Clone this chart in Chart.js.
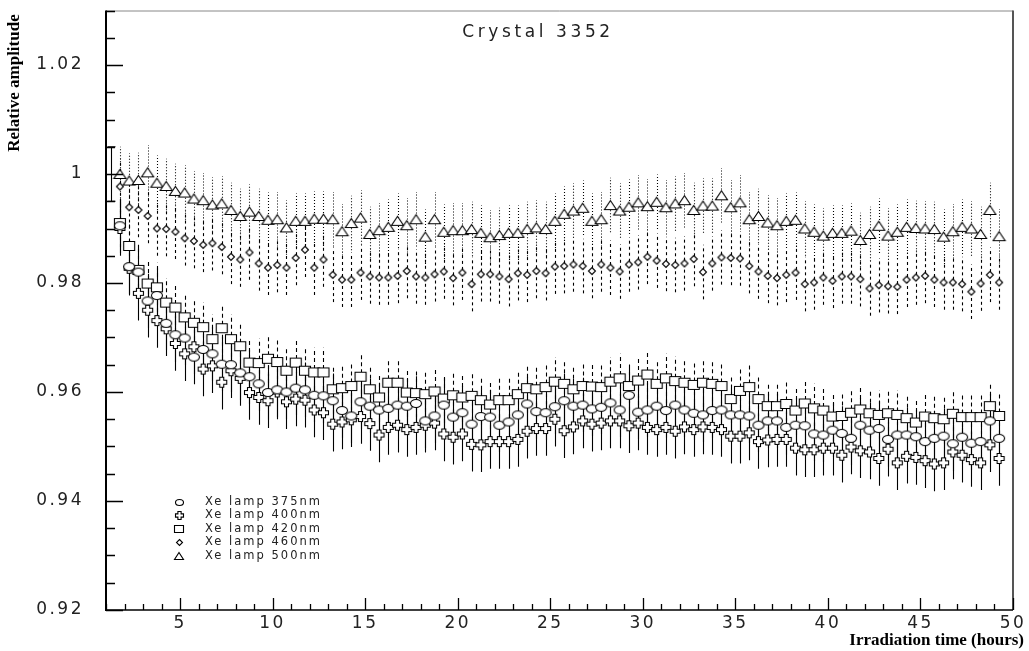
<!DOCTYPE html>
<html>
<head>
<meta charset="utf-8">
<script src="https://cdn.jsdelivr.net/npm/chart.js@4"></script>
<style>
  html, body { margin: 0; padding: 0; background: #fff; }
  canvas { display: block; }
</style>
</head>
<body>
<canvas id="myChart" width="1029" height="651"></canvas>
<script>
// irradiation time of each measurement (hours)
const hours = [1.75, 2.25, 2.75, 3.25, 3.75, 4.25, 4.75, 5.25, 5.75, 6.25,
  6.75, 7.25, 7.75, 8.25, 8.75, 9.25, 9.75, 10.25, 10.75, 11.25,
  11.75, 12.25, 12.75, 13.25, 13.75, 14.25, 14.75, 15.25, 15.75, 16.25,
  16.75, 17.25, 17.75, 18.25, 18.75, 19.25, 19.75, 20.25, 20.75, 21.25,
  21.75, 22.25, 22.75, 23.25, 23.75, 24.25, 24.75, 25.25, 25.75, 26.25,
  26.75, 27.25, 27.75, 28.25, 28.75, 29.25, 29.75, 30.25, 30.75, 31.25,
  31.75, 32.25, 32.75, 33.25, 33.75, 34.25, 34.75, 35.25, 35.75, 36.25,
  36.75, 37.25, 37.75, 38.25, 38.75, 39.25, 39.75, 40.25, 40.75, 41.25,
  41.75, 42.25, 42.75, 43.25, 43.75, 44.25, 44.75, 45.25, 45.75, 46.25,
  46.75, 47.25, 47.75, 48.25, 48.75, 49.25];

const xe375 = [0.9905, 0.9830, 0.9820, 0.9767, 0.9777, 0.9726, 0.9705, 0.9699, 0.9664, 0.9678,
  0.9670, 0.9651, 0.9650, 0.9635, 0.9628, 0.9615, 0.9599, 0.9604, 0.9600, 0.9607,
  0.9604, 0.9594, 0.9593, 0.9584, 0.9566, 0.9556, 0.9582, 0.9574, 0.9567, 0.9570,
  0.9576, 0.9574, 0.9579, 0.9547, 0.9556, 0.9576, 0.9554, 0.9562, 0.9541, 0.9555,
  0.9554, 0.9539, 0.9545, 0.9558, 0.9578, 0.9564, 0.9562, 0.9573, 0.9584, 0.9574,
  0.9576, 0.9569, 0.9572, 0.9580, 0.9567, 0.9594, 0.9563, 0.9567, 0.9574, 0.9566,
  0.9576, 0.9567, 0.9561, 0.9558, 0.9566, 0.9567, 0.9558, 0.9558, 0.9556, 0.9539,
  0.9547, 0.9547, 0.9535, 0.9539, 0.9538, 0.9523, 0.9521, 0.9530, 0.9524, 0.9515,
  0.9539, 0.9530, 0.9533, 0.9513, 0.9521, 0.9521, 0.9518, 0.9509, 0.9515, 0.9519,
  0.9505, 0.9517, 0.9506, 0.9509, 0.9547, 0.9515];

const xe400 = [0.9900, 0.9827, 0.9781, 0.9750, 0.9731, 0.9716, 0.9689, 0.9670, 0.9683, 0.9642,
  0.9648, 0.9618, 0.9639, 0.9625, 0.9599, 0.9590, 0.9584, 0.9600, 0.9582, 0.9587,
  0.9585, 0.9567, 0.9562, 0.9541, 0.9545, 0.9549, 0.9555, 0.9542, 0.9521, 0.9535,
  0.9539, 0.9531, 0.9535, 0.9539, 0.9543, 0.9523, 0.9517, 0.9523, 0.9504, 0.9503,
  0.9509, 0.9509, 0.9509, 0.9513, 0.9528, 0.9533, 0.9533, 0.9550, 0.9529, 0.9536,
  0.9547, 0.9541, 0.9543, 0.9547, 0.9547, 0.9538, 0.9543, 0.9535, 0.9531, 0.9535,
  0.9528, 0.9536, 0.9531, 0.9536, 0.9535, 0.9531, 0.9519, 0.9519, 0.9525, 0.9509,
  0.9512, 0.9513, 0.9513, 0.9497, 0.9494, 0.9494, 0.9497, 0.9497, 0.9484, 0.9499,
  0.9492, 0.9490, 0.9478, 0.9495, 0.9470, 0.9482, 0.9480, 0.9474, 0.9468, 0.9470,
  0.9490, 0.9484, 0.9476, 0.9470, 0.9503, 0.9478];

const xe420 = [0.9910, 0.9868, 0.9824, 0.9799, 0.9792, 0.9764, 0.9755, 0.9737, 0.9727, 0.9719,
  0.9697, 0.9717, 0.9697, 0.9684, 0.9654, 0.9653, 0.9661, 0.9655, 0.9639, 0.9654,
  0.9639, 0.9636, 0.9636, 0.9605, 0.9607, 0.9611, 0.9628, 0.9605, 0.9590, 0.9617,
  0.9617, 0.9599, 0.9598, 0.9596, 0.9601, 0.9588, 0.9594, 0.9590, 0.9593, 0.9585,
  0.9577, 0.9585, 0.9585, 0.9596, 0.9607, 0.9605, 0.9609, 0.9619, 0.9615, 0.9605,
  0.9611, 0.9610, 0.9609, 0.9619, 0.9625, 0.9611, 0.9621, 0.9632, 0.9615, 0.9625,
  0.9620, 0.9617, 0.9613, 0.9617, 0.9615, 0.9611, 0.9587, 0.9602, 0.9609, 0.9587,
  0.9574, 0.9574, 0.9578, 0.9566, 0.9579, 0.9570, 0.9566, 0.9555, 0.9556, 0.9562,
  0.9568, 0.9561, 0.9558, 0.9561, 0.9558, 0.9552, 0.9544, 0.9555, 0.9552, 0.9550,
  0.9560, 0.9554, 0.9554, 0.9554, 0.9574, 0.9556];

const xe460 = [0.9977, 0.9939, 0.9934, 0.9923, 0.9900, 0.9899, 0.9894, 0.9882, 0.9877, 0.9870,
  0.9873, 0.9866, 0.9848, 0.9843, 0.9856, 0.9836, 0.9828, 0.9833, 0.9828, 0.9846,
  0.9861, 0.9828, 0.9843, 0.9815, 0.9806, 0.9806, 0.9819, 0.9812, 0.9810, 0.9810,
  0.9813, 0.9822, 0.9812, 0.9810, 0.9816, 0.9821, 0.9809, 0.9819, 0.9798, 0.9816,
  0.9816, 0.9812, 0.9807, 0.9818, 0.9815, 0.9822, 0.9818, 0.9830, 0.9831, 0.9834,
  0.9831, 0.9822, 0.9834, 0.9828, 0.9821, 0.9834, 0.9838, 0.9848, 0.9841, 0.9835,
  0.9833, 0.9836, 0.9844, 0.9820, 0.9836, 0.9847, 0.9846, 0.9845, 0.9831, 0.9821,
  0.9813, 0.9809, 0.9815, 0.9819, 0.9798, 0.9801, 0.9810, 0.9804, 0.9812, 0.9812,
  0.9807, 0.9790, 0.9796, 0.9794, 0.9793, 0.9806, 0.9810, 0.9813, 0.9806, 0.9801,
  0.9801, 0.9798, 0.9784, 0.9799, 0.9815, 0.9801];

const xe500 = [1.0000, 0.9988, 0.9989, 1.0003, 0.9984, 0.9978, 0.9969, 0.9966, 0.9955, 0.9952,
  0.9944, 0.9946, 0.9934, 0.9923, 0.9931, 0.9923, 0.9916, 0.9917, 0.9902, 0.9914,
  0.9914, 0.9918, 0.9918, 0.9917, 0.9895, 0.9910, 0.9920, 0.9890, 0.9897, 0.9903,
  0.9914, 0.9906, 0.9917, 0.9885, 0.9917, 0.9894, 0.9897, 0.9897, 0.9899, 0.9892,
  0.9884, 0.9888, 0.9892, 0.9892, 0.9899, 0.9902, 0.9899, 0.9914, 0.9927, 0.9933,
  0.9938, 0.9914, 0.9917, 0.9943, 0.9933, 0.9940, 0.9948, 0.9941, 0.9949, 0.9939,
  0.9946, 0.9952, 0.9934, 0.9942, 0.9942, 0.9961, 0.9939, 0.9948, 0.9917, 0.9923,
  0.9911, 0.9906, 0.9914, 0.9916, 0.9900, 0.9894, 0.9887, 0.9892, 0.9892, 0.9896,
  0.9879, 0.9890, 0.9905, 0.9887, 0.9894, 0.9903, 0.9901, 0.9900, 0.9899, 0.9885,
  0.9895, 0.9903, 0.9900, 0.9890, 0.9934, 0.9886];

// half length of the error bar of each lamp
const errors = [0.005, 0.005, 0.0045, 0.005, 0.005];
const labels = ['Xe lamp 375nm', 'Xe lamp 400nm', 'Xe lamp 420nm', 'Xe lamp 460nm', 'Xe lamp 500nm'];

// reference point at the start of irradiation
const refHours = [1.25];
const refValue = [1.0];
const refError = 0.005;

const xTicks = [5, 10, 15, 20, 25, 30, 35, 40, 45, 50];
const xTickLabels = ['5', '10', '15', '20', '25', '30', '35', '40', '45', '50'];
const yTicks = [0.92, 0.94, 0.96, 0.98, 1.0, 1.02];
const yTickLabels = ['0.92', '0.94', '0.96', '0.98', '1', '1.02'];

const sans = '"DejaVu Sans", sans-serif';
const serif = '"Liberation Serif", "Times New Roman", serif';

function marker(kind, w, h) {
  const c = document.createElement('canvas');
  c.width = w + 3;
  c.height = h + 3;
  const g = c.getContext('2d');
  const cx = c.width / 2, cy = c.height / 2;
  g.lineWidth = 1.1;
  g.strokeStyle = '#000';
  g.fillStyle = '#fff';
  g.beginPath();
  if (kind === 'ellipse') {
    g.ellipse(cx, cy, w / 2, h / 2, 0, 0, Math.PI * 2);
  } else if (kind === 'rect') {
    g.rect(cx - w / 2, cy - h / 2, w, h);
  } else if (kind === 'diamond') {
    g.moveTo(cx, cy - h / 2); g.lineTo(cx + w / 2, cy);
    g.lineTo(cx, cy + h / 2); g.lineTo(cx - w / 2, cy);
    g.closePath();
  } else if (kind === 'triangle') {
    g.moveTo(cx, cy - h / 2); g.lineTo(cx + w / 2, cy + h / 2);
    g.lineTo(cx - w / 2, cy + h / 2);
    g.closePath();
  } else if (kind === 'plus') {
    const a = w / 2, t = w / 5;
    const pts = [[-t, -a], [t, -a], [t, -t], [a, -t], [a, t], [t, t], [t, a], [-t, a], [-t, t], [-a, t], [-a, -t], [-t, -t]];
    pts.forEach((p, i) => i ? g.lineTo(cx + p[0], cy + p[1]) : g.moveTo(cx + p[0], cy + p[1]));
    g.closePath();
  }
  g.fill();
  g.stroke();
  return c;
}

const shapes = [['ellipse', 11, 8], ['plus', 10, 10], ['rect', 11, 9], ['diamond', 7, 7], ['triangle', 12, 9]];
const legendShapes = [['ellipse', 8, 6], ['plus', 8, 8], ['rect', 9, 7], ['diamond', 6, 6], ['triangle', 9, 7]];
const dashes = [[], [], [4, 3], [3, 3], [1, 2]];
const series = [xe375, xe400, xe420, xe460, xe500];

const datasets = series.map((vals, k) => ({
  label: labels[k],
  data: hours.map((h, i) => ({ x: h, y: vals[i] })),
  err: errors[k],
  errDash: dashes[k],
  pointStyle: marker(...shapes[k]),
  legendIcon: marker(...legendShapes[k]),
  pointRadius: 6,
  showLine: false,
}));
datasets.unshift({
  label: 'ref',
  data: refHours.map((h, i) => ({ x: h, y: refValue[i] })),
  err: refError,
  errDash: [],
  cap: 4,
  pointRadius: 0,
  showLine: false,
});

const errorBars = {
  id: 'errorBars',
  beforeDatasetsDraw(chart) {
    const { ctx, chartArea: a, scales: { x, y } } = chart;
    ctx.save();
    ctx.letterSpacing = '0px';
    ctx.beginPath();
    ctx.rect(a.left, a.top, a.right - a.left, a.bottom - a.top);
    ctx.clip();
    ctx.strokeStyle = '#000';
    ctx.lineWidth = 1.1;
    chart.data.datasets.forEach(ds => {
      ctx.setLineDash(ds.errDash);
      ds.data.forEach(p => {
        const px = Math.round(x.getPixelForValue(p.x)) + 0.5;
        const y0 = y.getPixelForValue(p.y - ds.err);
        const y1 = y.getPixelForValue(p.y + ds.err);
        ctx.beginPath();
        ctx.moveTo(px, y0);
        ctx.lineTo(px, y1);
        if (ds.cap) {
          ctx.moveTo(px - ds.cap, y0); ctx.lineTo(px + ds.cap, y0);
          ctx.moveTo(px - ds.cap, y1); ctx.lineTo(px + ds.cap, y1);
        }
        ctx.stroke();
      });
    });
    ctx.restore();
  }
};

// wide lettering of the tick labels
const spacing = {
  id: 'spacing',
  beforeDraw(chart) { chart.ctx.letterSpacing = '2.5px'; },
  afterDraw(chart) { chart.ctx.letterSpacing = '0px'; }
};

const frame = {
  id: 'frame',
  afterDraw(chart) {
    const { ctx, chartArea: a, scales: { x, y } } = chart;
    ctx.save();
    ctx.setLineDash([]);
    // box
    ctx.strokeStyle = '#888';
    ctx.lineWidth = 1;
    ctx.beginPath(); ctx.moveTo(a.left, a.top + 0.5); ctx.lineTo(a.right, a.top + 0.5); ctx.stroke();
    ctx.strokeStyle = '#555';
    ctx.lineWidth = 2;
    ctx.beginPath(); ctx.moveTo(a.right, a.top); ctx.lineTo(a.right, a.bottom); ctx.stroke();
    ctx.strokeStyle = '#000';
    ctx.beginPath(); ctx.moveTo(a.left, a.top); ctx.lineTo(a.left, a.bottom + 1); ctx.stroke();
    ctx.lineWidth = 1.5;
    ctx.beginPath(); ctx.moveTo(a.left, a.bottom); ctx.lineTo(a.right, a.bottom); ctx.stroke();

    // ticks pointing inwards
    ctx.lineWidth = 1.3;
    ctx.beginPath();
    for (let v = 1; v <= 50; v++) {
      const px = Math.round(x.getPixelForValue(v)) + 0.5;
      const len = v % 5 === 0 ? 12 : 6;
      ctx.moveTo(px, a.bottom); ctx.lineTo(px, a.bottom - len);
    }
    for (let k = 0; k <= 22; k++) {
      const v = 0.92 + k * 0.005;
      const py = Math.round(y.getPixelForValue(v)) + 0.5;
      const len = k % 4 === 0 ? 17 : 9;
      ctx.moveTo(a.left, py); ctx.lineTo(a.left + len, py);
    }
    ctx.stroke();

    // title
    ctx.fillStyle = '#222';
    ctx.letterSpacing = '3.6px';
    ctx.font = '17px ' + sans;
    ctx.textAlign = 'center';
    ctx.textBaseline = 'middle';
    ctx.fillText('Crystal 3352', 538, 33);

    // legend
    ctx.letterSpacing = '2px';
    ctx.font = '11.5px ' + sans;
    ctx.textAlign = 'left';
    chart.data.datasets.filter(ds => ds.legendIcon).forEach((ds, i) => {
      const ry = 502 + i * 13.5;
      const ic = ds.legendIcon;
      ctx.drawImage(ic, Math.round(179 - ic.width / 2), Math.round(ry - ic.height / 2));
      ctx.fillText(ds.label, 205, ry);
    });

    // axis titles
    ctx.letterSpacing = '0px';
    ctx.fillStyle = '#000';
    ctx.font = 'bold 17px ' + serif;
    ctx.textAlign = 'right';
    ctx.fillText('Irradiation time (hours)', 1024, 641);
    ctx.translate(15, 83);
    ctx.rotate(-Math.PI / 2);
    ctx.textAlign = 'center';
    ctx.fillText('Relative amplitude', 0, 0);
    ctx.restore();
  }
};

function noPad(s) {
  s.paddingTop = 0;
  s.paddingBottom = 0;
  s.paddingLeft = 0;
  s.paddingRight = 0;
}

new Chart(document.getElementById('myChart'), {
  type: 'scatter',
  data: { datasets },
  options: {
    responsive: false,
    animation: false,
    events: [],
    layout: { padding: { top: 10.5, right: 16, left: 0, bottom: 0 } },
    plugins: { legend: { display: false }, tooltip: { enabled: false } },
    scales: {
      x: {
        type: 'linear',
        min: 1,
        max: 50,
        grid: { display: false, drawTicks: false },
        border: { display: false },
        afterBuildTicks: s => { s.ticks = xTicks.map(v => ({ value: v })); },
        afterFit: s => { s.height = 41; noPad(s); },
        ticks: {
          autoSkip: false,
          maxRotation: 0,
          padding: 3,
          color: '#222',
          font: { family: sans, size: 17 },
          callback: (v, i) => xTickLabels[i],
        },
      },
      y: {
        type: 'linear',
        min: 0.92,
        max: 1.03,
        grid: { display: false, drawTicks: false },
        border: { display: false },
        afterBuildTicks: s => { s.ticks = yTicks.map(v => ({ value: v })); },
        afterFit: s => { s.width = 106; noPad(s); },
        ticks: {
          padding: 22,
          color: '#222',
          font: { family: sans, size: 17 },
          callback: (v, i) => yTickLabels[i],
        },
      },
    },
  },
  plugins: [spacing, errorBars, frame],
});
</script>
</body>
</html>
